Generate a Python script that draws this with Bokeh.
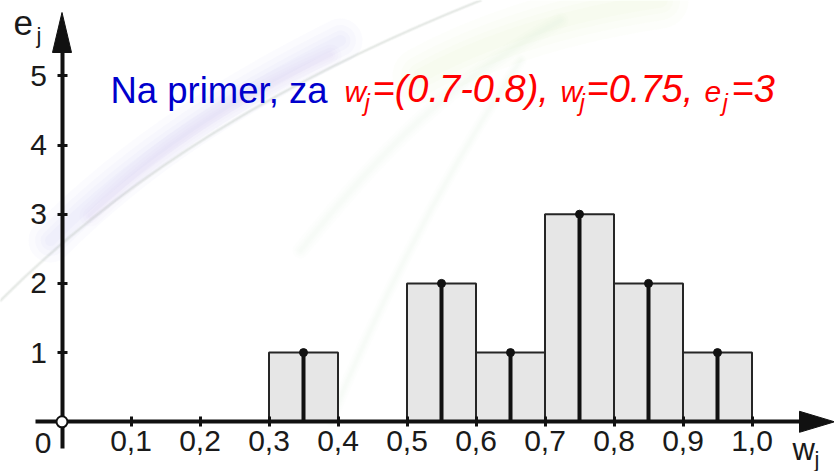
from bokeh.plotting import figure
from bokeh.models import LinearAxis, FixedTicker, Range1d, Label
from bokeh.embed import file_html
from bokeh.resources import INLINE

# ---- data ----
bin_left = [0.3, 0.4, 0.5, 0.6, 0.7, 0.8, 0.9]
bin_right = [0.4, 0.5, 0.6, 0.7, 0.8, 0.9, 1.0]
counts = [1, 0, 2, 1, 3, 2, 1]
x_ticks = [0.1, 0.2, 0.3, 0.4, 0.5, 0.6, 0.7, 0.8, 0.9, 1.0]
x_tick_labels = ["0,1", "0,2", "0,3", "0,4", "0,5", "0,6", "0,7", "0,8", "0,9", "1,0"]
y_ticks = [1, 2, 3, 4, 5]
y_tick_labels = ["1", "2", "3", "4", "5"]

# ---- layout helpers (pixel geometry of the picture) ----
W, H = 834, 471
X0_PX, Y0_PX = 61.5, 421.3      # picture position of the origin
PX_X, PX_Y = 690.0, 69.2        # pixels per data unit


def dx(px):
    return (px - X0_PX) / PX_X


def dy(py):
    return (Y0_PX - py) / PX_Y


p = figure(width=W, height=H, output_backend="svg", toolbar_location=None,
           x_axis_type=None, y_axis_type=None,
           x_range=Range1d(dx(0), dx(W)), y_range=Range1d(dy(H), dy(0)),
           min_border=0, tools="")
p.outline_line_color = None
p.background_fill_color = "white"
p.border_fill_color = "white"

# ---- faint, soft decorative background streaks (slide background) ----
deco = [
    # start, ctrl0, ctrl1, end, colour, max width, alpha per layer
    ((0, 300), (150, 150), (330, 60), (480, 0), "#b8c4b8", 4, 0.10),
    ((50, 240), (140, 150), (240, 90), (340, 40), "#9a9ae6", 44, 0.035),
    ((90, 215), (170, 135), (260, 85), (330, 55), "#c2a6dc", 22, 0.04),
    ((420, 75), (480, 42), (560, 15), (660, 0), "#bcdc94", 56, 0.035),
    ((300, 250), (380, 150), (450, 80), (560, 20), "#cfe2cf", 16, 0.05),
    ((330, 420), (380, 300), (440, 180), (520, 60), "#d6e6de", 12, 0.06),
]
for (a, c0, c1, b, col, lw, al) in deco:
    for f in (1.0, 0.7, 0.45, 0.25):
        r = p.bezier(x0=[dx(a[0])], y0=[dy(a[1])], x1=[dx(b[0])], y1=[dy(b[1])],
                     cx0=[dx(c0[0])], cy0=[dy(c0[1])], cx1=[dx(c1[0])], cy1=[dy(c1[1])],
                     line_color=col, line_width=max(1, lw * f), line_alpha=al,
                     line_cap="round")
        r.level = "underlay"

# ---- bars ----
nz = [i for i, c in enumerate(counts) if c > 0]
L = [bin_left[i] for i in nz]
R = [bin_right[i] for i in nz]
C = [counts[i] for i in nz]
M = [(a + b) / 2 for a, b in zip(L, R)]
p.quad(left=L, right=R, bottom=0, top=C, fill_color="#e6e6e6",
       line_color="#262626", line_width=2)
p.segment(x0=M, y0=0, x1=M, y1=C, line_color="#111111", line_width=4)
p.scatter(x=M, y=C, size=8, fill_color="#111111", line_color="#111111")

# ---- axes ----
FONT = "Liberation Sans"
xaxis = LinearAxis(fixed_location=0, bounds=(dx(35), dx(802)),
                   ticker=FixedTicker(ticks=x_ticks),
                   major_label_overrides=dict(zip(x_ticks, x_tick_labels)))
yaxis = LinearAxis(fixed_location=0, bounds=(dy(448), dy(50)),
                   ticker=FixedTicker(ticks=y_ticks),
                   major_label_overrides=dict(zip(y_ticks, y_tick_labels)))
for ax in (xaxis, yaxis):
    ax.axis_line_width = 4
    ax.axis_line_color = "#111111"
    ax.major_tick_line_width = 3
    ax.major_tick_line_color = "#111111"
    ax.major_tick_in = 5
    ax.major_tick_out = 5
    ax.minor_tick_line_color = None
    ax.major_label_text_font = FONT
    ax.major_label_text_font_size = "30px"
    ax.major_label_text_color = "#1a1a1a"
xaxis.major_label_standoff = 4
yaxis.major_label_standoff = 10
p.add_layout(xaxis, "below")
p.add_layout(yaxis, "left")

# arrow heads
hx = 10.5 / PX_Y
hw = 9.5 / PX_X
ah1 = p.patch(x=[0, -hw, hw], y=[dy(12), dy(52), dy(52)],
              fill_color="#111111", line_color="#111111")
ah2 = p.patch(x=[dx(834), dx(799), dx(799)], y=[0, hx, -hx],
              fill_color="#111111", line_color="#111111")
ah1.level = "overlay"
ah2.level = "overlay"

# origin marker
o = p.scatter(x=[0], y=[0], size=11, fill_color="white", line_color="#111111", line_width=2)
o.level = "overlay"

# ---- texts ----
def lab(text, px, py, size, color="#1a1a1a", style="normal", align="left"):
    s = float(size.replace("px", ""))
    p.add_layout(Label(x=dx(px), y=dy(py - 0.36 * s), text=text, text_font=FONT,
                       text_font_size=size, text_color=color, text_font_style=style,
                       text_align=align, text_baseline="alphabetic"))

lab("0", 42.5, 453, "30px", align="center")
lab("e", 13, 35.5, "35px")
lab("j", 36, 43, "22px")
lab("w", 792, 460, "31px")
lab("j", 814, 467, "22px")

BLUE = "#0000cc"
RED = "#ff0000"
lab("Na primer, za", 110, 103, "36.5px", BLUE)
lab("w", 344, 102, "30px", RED, "italic")
lab("j", 364, 111, "24px", RED, "italic")
lab("=(0.7-0.8),", 372, 102, "38px", RED, "italic")
lab("w", 560, 102, "30px", RED, "italic")
lab("j", 579, 111, "24px", RED, "italic")
lab("=0.75,", 586, 102, "38px", RED, "italic")
lab("e", 704, 102, "30px", RED, "italic")
lab("j", 722, 111, "24px", RED, "italic")
lab("=3", 731, 102, "38px", RED, "italic")

open("out.html", "w").write(file_html(p, INLINE))
